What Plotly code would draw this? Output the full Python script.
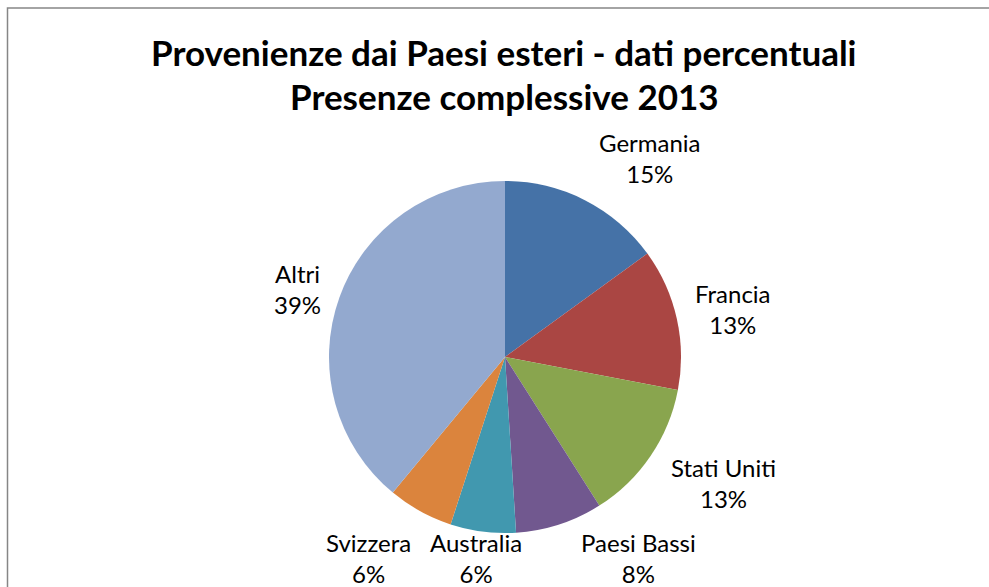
import plotly.graph_objects as go

# Foreign arrivals, share of total stays in 2013 (percent)
countries = ["Germania", "Francia", "Stati Uniti", "Paesi Bassi", "Australia", "Svizzera", "Altri"]
shares = [15, 13, 13, 8, 6, 6, 39]
colors = ["#4572A7", "#AA4643", "#89A54E", "#71588F", "#4198AF", "#DB843D", "#93A9CF"]

title_lines = ["Provenienze dai Paesi esteri - dati percentuali", "Presenze complessive 2013"]

W, H = 989, 587
FONT = "Lato"

# label block centres, in pixels from the top-left corner
label_pos = [(650, 158), (733, 309), (723, 483), (638, 558), (476, 558), (368, 558), (297, 289)]

# pie placement: centre and radius in pixels
cx, cy, r = 505, 357, 176

fig = go.Figure(
    go.Pie(
        labels=countries,
        values=shares,
        marker=dict(colors=colors, line=dict(width=0)),
        sort=False,
        direction="clockwise",
        rotation=0,
        textinfo="none",
        hoverinfo="label+percent",
        showlegend=False,
        domain=dict(x=[(cx - r) / W, (cx + r) / W], y=[1 - (cy + r) / H, 1 - (cy - r) / H]),
    )
)

annotations = []
for name, val, (px, py) in zip(countries, shares, label_pos):
    annotations.append(dict(
        x=px / W, y=1 - py / H, xref="paper", yref="paper",
        text=f"{name}<br>{val}%", showarrow=False,
        xanchor="center", yanchor="middle", align="center",
        font=dict(family=FONT, size=24, color="#000000"),
    ))

for line, ty in zip(title_lines, [52, 96]):
    annotations.append(dict(
        x=504 / W, y=1 - ty / H, xref="paper", yref="paper",
        text=f"<b>{line}</b>", showarrow=False,
        xanchor="center", yanchor="middle",
        font=dict(family=FONT, size=35, color="#000000"),
    ))

fig.update_layout(
    width=W, height=H,
    margin=dict(l=0, r=0, t=0, b=0),
    paper_bgcolor="white",
    plot_bgcolor="white",
    annotations=annotations,
    shapes=[dict(
        type="rect", xref="paper", yref="paper",
        x0=7.5 / W, x1=1.05, y0=-0.05, y1=1 - 8 / H,
        line=dict(color="#868686", width=1.5),
        fillcolor="rgba(0,0,0,0)", layer="below",
    )],
)

fig.write_html("out.html")
